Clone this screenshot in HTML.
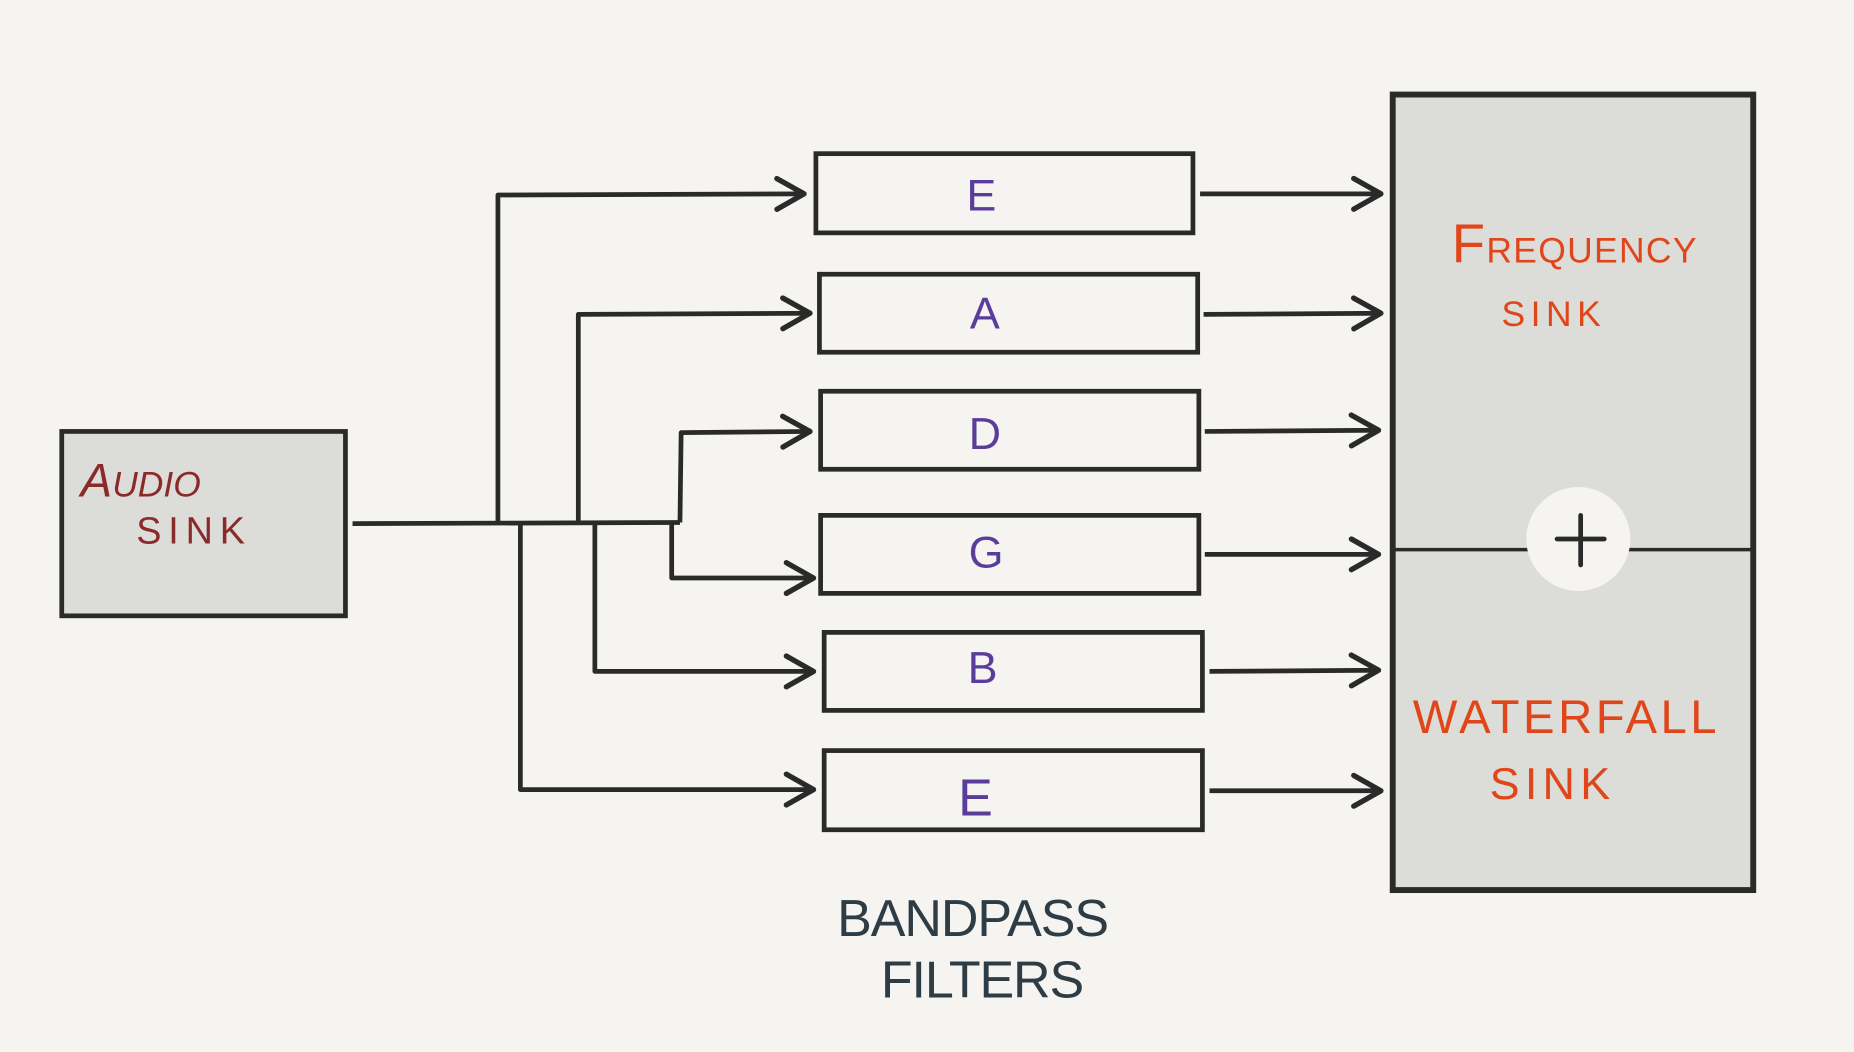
<!DOCTYPE html>
<html><head><meta charset="utf-8"><style>
html,body{margin:0;padding:0;background:#f5f4f0;}
svg{display:block;}
text{font-family:"Liberation Sans",sans-serif;}
</style></head><body>
<svg width="1854" height="1052" viewBox="0 0 1568 890" xmlns="http://www.w3.org/2000/svg">
<rect width="1568" height="890" fill="#f5f4f0"/>
<defs>
<marker id="ah" viewBox="0 0 20 20" refX="18" refY="10" markerWidth="20" markerHeight="20" orient="auto" markerUnits="userSpaceOnUse" style="overflow:visible">
<path d="M-5,-3 L18,10 L-5,23" fill="none" stroke="#2a2a2a" stroke-width="4.5" stroke-linecap="round" stroke-linejoin="round"/>
</marker>
</defs>
<g>
<rect x="52" y="365" width="240" height="156" fill="#dcdcd8" stroke="#2a2a2a" stroke-width="4"/>
<text x="68" y="420" font-size="40" fill="#8b2a2a" font-style="italic">A<tspan font-size="30">UDIO</tspan></text>
<text x="115" y="460" font-size="32" fill="#8b2a2a" textLength="92">SINK</text>
</g>
<g fill="none" stroke="#2a2a2a" stroke-width="4" stroke-linejoin="round">
<path d="M298,443 L575,442"/>
<path d="M421,443 L421,165 L680,164" marker-end="url(#ah)"/>
<path d="M489,443 L489,266 L685,265" marker-end="url(#ah)"/>
<path d="M575,442 L576,366 L685,365" marker-end="url(#ah)"/>
<path d="M568,443 L568,489 L688,489" marker-end="url(#ah)"/>
<path d="M503,443 L503,568 L688,568" marker-end="url(#ah)"/>
<path d="M440,443 L440,668 L688,668" marker-end="url(#ah)"/>
<path d="M1015,164 L1168,164" marker-end="url(#ah)"/>
<path d="M1018,266 L1168,265" marker-end="url(#ah)"/>
<path d="M1019,365 L1166,364" marker-end="url(#ah)"/>
<path d="M1019,469 L1166,469" marker-end="url(#ah)"/>
<path d="M1023,568 L1166,567" marker-end="url(#ah)"/>
<path d="M1023,669 L1168,669" marker-end="url(#ah)"/>
</g>
<g fill="#f5f4f0" stroke="#2a2a2a" stroke-width="4">
<rect x="690" y="130" width="319" height="67"/>
<rect x="693" y="232" width="320" height="66"/>
<rect x="694" y="331" width="320" height="66"/>
<rect x="694" y="436" width="320" height="66"/>
<rect x="697" y="535" width="320" height="66"/>
<rect x="697" y="635" width="320" height="67"/>
</g>
<g fill="#5a3c9a" font-size="38" text-anchor="middle">
<text x="830" y="178">E</text>
<text x="833" y="278">A</text>
<text x="833" y="380">D</text>
<text x="834" y="480">G</text>
<text x="831" y="578">B</text>
<text x="825" y="690" font-size="44">E</text>
</g>
<g>
<rect x="1178" y="80" width="305" height="673" fill="#dcdcd8" stroke="#2a2a2a" stroke-width="5"/>
<line x1="1178" y1="465" x2="1483" y2="465" stroke="#2a2a2a" stroke-width="3"/>
<circle cx="1335" cy="456" r="44" fill="#f5f4f0"/>
<path d="M1317,456 L1357,456 M1337,436 L1337,478" stroke="#2a2a2a" stroke-width="4" stroke-linecap="round"/>
<text x="1228" y="222" font-size="46" fill="#e0461a" textLength="207">F<tspan font-size="30">REQUENCY</tspan></text>
<text x="1270" y="276" font-size="30" fill="#e0461a" textLength="84">SINK</text>
<text x="1195" y="620" font-size="40" fill="#e0461a" textLength="257">WATERFALL</text>
<text x="1260" y="676" font-size="38" fill="#e0461a" textLength="102">SINK</text>
</g>
<g fill="#2e3d45" font-size="44">
<text x="708" y="792" textLength="230">BANDPASS</text>
<text x="745" y="844" textLength="172">FILTERS</text>
</g>
</svg>
</body></html>
